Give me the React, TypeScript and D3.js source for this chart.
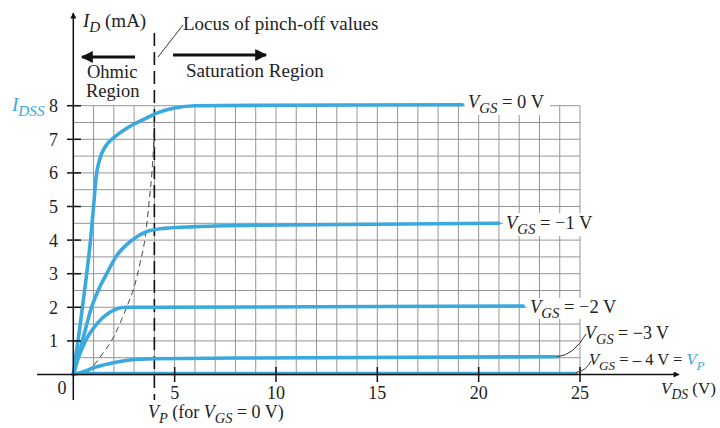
import * as d3 from 'd3';
import React, { useEffect, useRef } from 'react';

// drain curves: [V_DS (V), I_D (mA)]
const curveVgs0: [number, number][] = [
  [0, 0], [0.3, 1.3], [0.6, 2.7], [0.85, 4], [1.0, 5], [1.12, 5.85], [1.3, 6.4], [1.6, 6.8],
  [2.0, 7.05], [2.7, 7.35], [3.5, 7.6], [4, 7.75], [5, 7.93], [6, 8.0], [19.2, 8.03],
];
const curveVgs1: [number, number][] = [
  [0, 0], [0.45, 1], [0.9, 2], [1.3, 2.6], [1.65, 3], [2.1, 3.5], [2.9, 4.0], [3.6, 4.25],
  [4.5, 4.35], [6, 4.4], [9, 4.44], [21, 4.5],
];
const curveVgs2: [number, number][] = [
  [0, 0], [0.25, 0.5], [0.6, 1], [1.15, 1.5], [1.8, 1.85], [2.6, 2.0], [4, 2.0], [22.2, 2.04],
];
const curveVgs3: [number, number][] = [
  [0, 0], [0.5, 0.08], [1, 0.2], [1.8, 0.33], [2.8, 0.43], [4, 0.47], [8, 0.49], [23.9, 0.53],
];
const curveVgs4: [number, number][] = [[0, 0.03], [24.8, 0.03]];
const locus: [number, number][] = [
  [0.7, 0.05], [1.3, 0.5], [2, 1.13], [2.63, 2.0], [3.0, 2.6], [3.3, 3.33], [3.55, 4.1],
  [3.75, 5.2], [3.9, 6.2], [3.97, 7], [4, 7.75],
];

const yTicks = [1, 2, 3, 4, 5, 6, 7, 8];
const xTicks = [5, 10, 15, 20, 25];
const vp = 4;

const blue = '#3aa9dd';
const serif = '"Liberation Serif", "DejaVu Serif", serif';

type Part = [string, boolean, boolean, string?]; // text, subscript, italic, colour

const App = () => {
  const svgRef = useRef<SVGSVGElement>(null);

  useEffect(() => {
    const width = 720;
    const height = 428;
    const x = d3.scaleLinear().domain([0, 25]).range([73.3, 580]);
    const y = d3.scaleLinear().domain([0, 8]).range([374.5, 105.7]);

    const svg = d3.select(svgRef.current);
    svg.selectAll('*').remove();
    svg.attr('width', width).attr('height', height);

    svg.append('rect').attr('width', width).attr('height', height).attr('fill', '#fff');

    const defs = svg.append('defs');
    defs.append('marker')
      .attr('id', 'arr')
      .attr('viewBox', '0 0 10 10')
      .attr('refX', 9).attr('refY', 5)
      .attr('markerWidth', 5).attr('markerHeight', 4)
      .attr('markerUnits', 'strokeWidth')
      .attr('orient', 'auto')
      .append('path').attr('d', 'M0,0 L10,5 L0,10 Z').attr('fill', '#111');

    // grid
    const grid = svg.append('g').attr('stroke', '#959595').attr('stroke-width', 1);
    grid.selectAll('line.v')
      .data(d3.range(1, 26))
      .enter().append('line')
      .attr('x1', d => x(d)).attr('x2', d => x(d))
      .attr('y1', y(0)).attr('y2', y(8));
    grid.selectAll('line.h')
      .data(d3.range(1, 17).map(d => d / 2))
      .enter().append('line')
      .attr('x1', x(0)).attr('x2', x(25))
      .attr('y1', d => y(d)).attr('y2', d => y(d));

    // label backgrounds over the grid
    const bgs = [
      [465, 92, 85, 23], [503, 213, 92, 23], [527, 298, 90, 21], [583, 326, 90, 19],
    ];
    svg.selectAll('rect.bg').data(bgs).enter().append('rect')
      .attr('x', d => d[0]).attr('y', d => d[1]).attr('width', d => d[2]).attr('height', d => d[3])
      .attr('fill', '#fff');

    // vertical pinch-off line at V_P
    svg.append('line')
      .attr('x1', x(vp)).attr('x2', x(vp))
      .attr('y1', 33).attr('y2', 400)
      .attr('stroke', '#111').attr('stroke-width', 1.6)
      .attr('stroke-dasharray', '13,6');

    const line = d3.line<[number, number]>()
      .x(d => x(d[0])).y(d => y(d[1]))
      .curve(d3.curveMonotoneX);

    // locus of pinch-off
    svg.append('path')
      .attr('d', line(locus))
      .attr('fill', 'none').attr('stroke', '#444').attr('stroke-width', 1)
      .attr('stroke-dasharray', '6,4');

    // drain curves
    [curveVgs0, curveVgs1, curveVgs2, curveVgs3, curveVgs4].forEach(c => {
      svg.append('path')
        .attr('d', line(c))
        .attr('fill', 'none').attr('stroke', blue).attr('stroke-width', 3.6)
        .attr('stroke-linecap', 'round');
    });

    // axes
    svg.append('line')
      .attr('x1', 37).attr('x2', 679).attr('y1', y(0)).attr('y2', y(0))
      .attr('stroke', '#111').attr('stroke-width', 1.5).attr('marker-end', 'url(#arr)');
    svg.append('line')
      .attr('x1', x(0)).attr('x2', x(0)).attr('y1', 400).attr('y2', 13)
      .attr('stroke', '#111').attr('stroke-width', 1.5).attr('marker-end', 'url(#arr)');

    svg.selectAll('line.yt').data(yTicks).enter().append('line')
      .attr('x1', 67).attr('x2', 81).attr('y1', d => y(d)).attr('y2', d => y(d))
      .attr('stroke', '#111').attr('stroke-width', 1.5);
    svg.selectAll('line.xt').data(xTicks).enter().append('line')
      .attr('x1', d => x(d)).attr('x2', d => x(d)).attr('y1', 367).attr('y2', 382)
      .attr('stroke', '#111').attr('stroke-width', 1.5);

    const txt = svg.append('g').attr('font-family', serif).attr('fill', '#222');
    txt.selectAll('text.yl').data(yTicks).enter().append('text')
      .attr('x', 58).attr('y', d => y(d) + 6.5)
      .attr('text-anchor', 'end').attr('font-size', 18)
      .text(d => d);
    txt.selectAll('text.xl').data(xTicks).enter().append('text')
      .attr('x', d => x(d)).attr('y', 399)
      .attr('text-anchor', 'middle').attr('font-size', 18)
      .text(d => d);
    txt.append('text').attr('x', 62).attr('y', 394).attr('text-anchor', 'middle')
      .attr('font-size', 18).text('0');

    // text with subscripts
    const rich = (parts: Part[], xPos: number, yPos: number, size: number) => {
      const t = txt.append('text').attr('x', xPos).attr('y', yPos).attr('font-size', size);
      let shifted = false;
      parts.forEach(([s, isSub, italic, color]) => {
        const ts = t.append('tspan').text(s);
        if (italic) ts.attr('font-style', 'italic');
        if (color) ts.attr('fill', color);
        if (isSub) {
          ts.attr('font-size', size * 0.8);
          if (!shifted) ts.attr('dy', size * 0.28);
          shifted = true;
        } else if (shifted) {
          ts.attr('dy', -size * 0.28);
          shifted = false;
        }
      });
      return t;
    };

    rich([['I', false, true], ['D', true, true], [' (mA)', false, false]], 83, 27, 19);
    rich([['I', false, true, blue], ['DSS', true, true, blue]], 12, 111, 19);
    rich([['V', false, true], ['DS', true, true], [' (V)', false, false]], 661, 394, 17);
    rich([['V', false, true], ['P', true, true], [' (for ', false, false], ['V', false, true], ['GS', true, true], [' = 0 V)', false, false]], 148, 418, 18);

    txt.append('text').attr('x', 183).attr('y', 30).attr('font-size', 19).text('Locus of pinch-off values');
    txt.append('text').attr('x', 87).attr('y', 78).attr('font-size', 18.5).text('Ohmic');
    txt.append('text').attr('x', 86).attr('y', 97).attr('font-size', 18.5).text('Region');
    txt.append('text').attr('x', 186).attr('y', 77).attr('font-size', 19).text('Saturation Region');

    rich([['V', false, true], ['GS', true, true], [' = 0 V', false, false]], 468, 108, 18.5);
    rich([['V', false, true], ['GS', true, true], [' = \u22121 V', false, false]], 506, 229, 18.5);
    rich([['V', false, true], ['GS', true, true], [' = \u22122 V', false, false]], 530, 313, 18.5);
    rich([['V', false, true], ['GS', true, true], [' = \u22123 V', false, false]], 585, 339, 18);
    rich([['V', false, true], ['GS', true, true], [' = \u2013 4 V = ', false, false], ['V', false, true, blue], ['P', true, true, blue]], 589, 365, 16.5);

    // region arrows
    svg.append('line').attr('x1', 135).attr('x2', 82).attr('y1', 57).attr('y2', 57)
      .attr('stroke', '#111').attr('stroke-width', 3).attr('marker-end', 'url(#arr)');
    svg.append('line').attr('x1', 173).attr('x2', 266).attr('y1', 55).attr('y2', 55)
      .attr('stroke', '#111').attr('stroke-width', 3).attr('marker-end', 'url(#arr)');

    // leader lines
    const lead = svg.append('g').attr('fill', 'none').attr('stroke', '#333').attr('stroke-width', 1);
    lead.append('path').attr('d', 'M183,25 L158,57');
    lead.append('path').attr('d', `M${x(23.9)},${y(0.53)} Q${x(24.7)},${y(0.58)} 586,334`);
    lead.append('path').attr('d', `M${x(24.8)},${y(0.03) - 1} Q${x(25.3)},${y(0.1)} 591,361`);
  }, []);

  return <svg ref={svgRef} style={{ position: 'absolute', left: 0, top: 0 }} />;
};

export default App;
